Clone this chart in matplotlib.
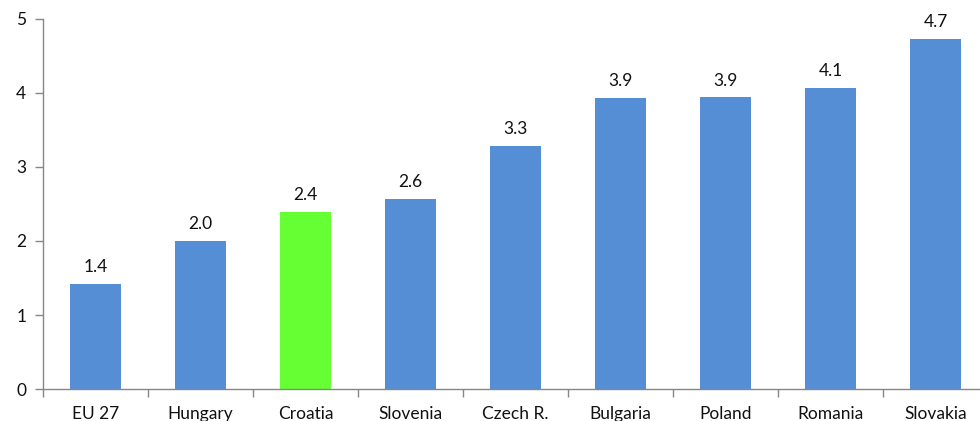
import matplotlib.pyplot as plt
import numpy as np

plt.rcParams['font.family'] = ['Lato', 'DejaVu Sans']

countries = ['EU 27', 'Hungary', 'Croatia', 'Slovenia', 'Czech R.',
             'Bulgaria', 'Poland', 'Romania', 'Slovakia']
values = [1.42, 2.0, 2.39, 2.57, 3.29, 3.93, 3.94, 4.07, 4.73]
colors = ['#558ED5'] * len(countries)
colors[2] = '#66FF33'

fig = plt.figure(figsize=(9.8, 4.21), dpi=100)
ax = fig.add_axes([43 / 980, 32 / 421, 945 / 980, 370 / 421])

x = np.arange(len(countries))
bars = ax.bar(x, values, width=0.49, color=colors, edgecolor='none')
for xi, v in zip(x, values):
    ax.text(xi, v + 0.12, f'{v:.1f}', ha='center', va='bottom', fontsize=12.5, color='#111111')

ax.set_xlim(-0.5, len(countries) - 0.5)
ax.set_ylim(0, 5)
ax.set_yticks(range(6))
ax.set_xticks(x)
ax.set_xticklabels(countries, fontsize=12.5, color='#111111')
ax.set_xticks(np.arange(len(countries) + 1) - 0.5, minor=True)
ax.tick_params(axis='x', which='major', length=0, pad=12)
ax.tick_params(axis='x', which='minor', length=6, color='#868686', width=1)
ax.tick_params(axis='y', length=6, color='#868686', width=1, labelsize=12.5,
               labelcolor='#111111', pad=6)

for s in ['top', 'right']:
    ax.spines[s].set_visible(False)
for s in ['left', 'bottom']:
    ax.spines[s].set_color('#868686')
    ax.spines[s].set_linewidth(1)

fig.savefig('out.png', dpi=100)
